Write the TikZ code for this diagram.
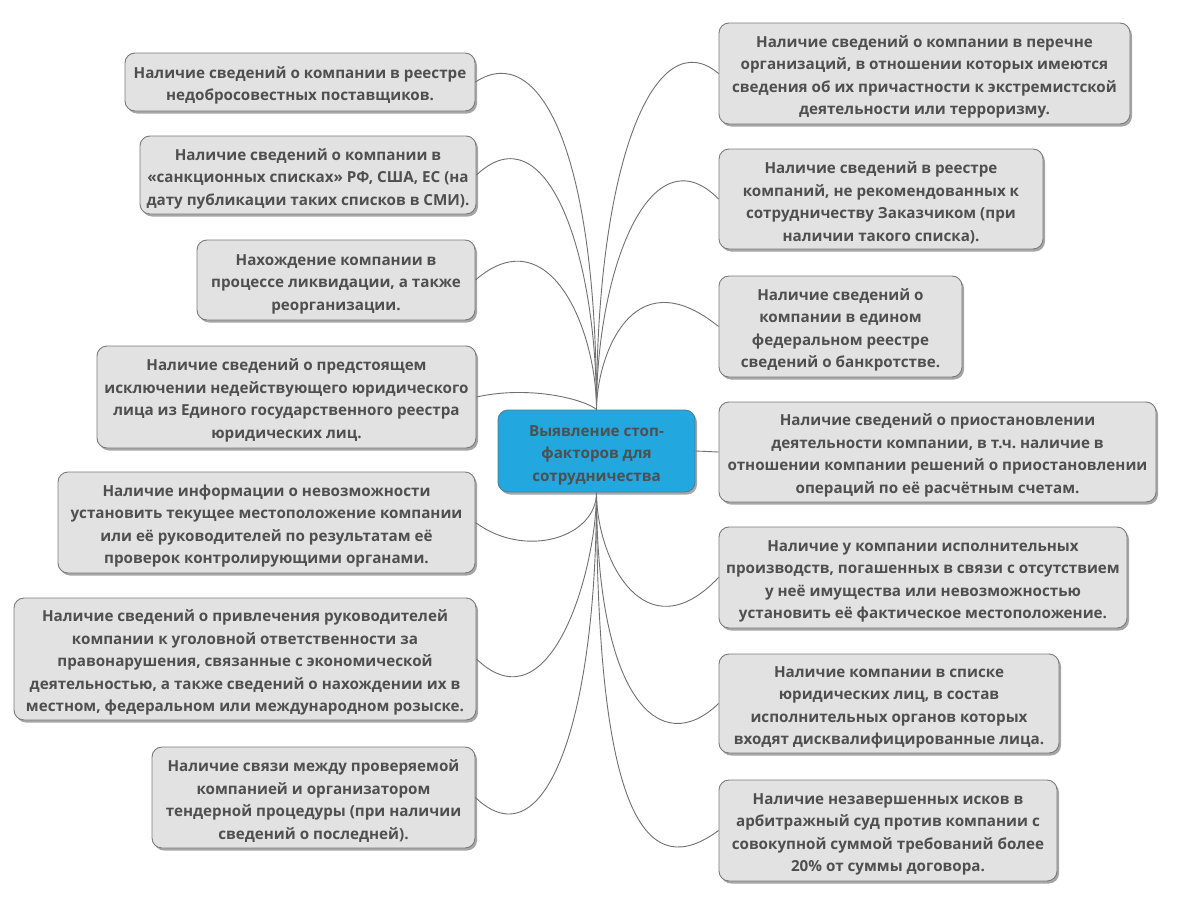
\documentclass[tikz,border=0pt]{standalone}
\usepackage{fontspec}
\setmainfont{Open Sans}
\usetikzlibrary{shadows}
\frenchspacing
\newcommand\tp{\rule{0pt}{19pt}}
\definecolor{boxfill}{HTML}{E2E2E2}
\definecolor{boxline}{HTML}{7A7A7A}
\definecolor{txt}{HTML}{4F4F4F}
\definecolor{mainfill}{HTML}{22A7DE}
\definecolor{mainline}{HTML}{4F7F95}
\definecolor{conn}{HTML}{707070}
\tikzset{
  leaf/.style={draw=boxline, fill=boxfill, rounded corners=10pt, line width=0.9pt,
    align=center, text=txt, font=\bfseries\fontsize{15.2}{22.5}\selectfont, inner sep=0pt,
    drop shadow={shadow xshift=2pt, shadow yshift=-2.5pt, fill=black, opacity=0.35}},
  root/.style={leaf, fill=mainfill, draw=mainline},
  link/.style={draw=conn, line width=0.9pt},
}
\begin{document}
\begin{tikzpicture}[x=1pt,y=-1pt]
\fill[white] (0,0) rectangle (1186,910);
\useasboundingbox (0,0) rectangle (1186,910);

\node[root, minimum width=197pt, minimum height=82pt] (c) at (596.5,451) {\tp Выявление стоп-\\факторов для\\сотрудничества};

\node[leaf, minimum width=350pt, minimum height=58pt] (l1) at (300,82) {\tp Наличие сведений о компании в реестре\\недобросовестных поставщиков.};
\node[leaf, minimum width=336pt, minimum height=78pt] (l2) at (308,175) {\tp Наличие сведений о компании в\\«санкционных списках» РФ, США, ЕС (на\\дату публикации таких списков в СМИ).};
\node[leaf, minimum width=278pt, minimum height=80pt] (l3) at (336,280) {\tp Нахождение компании в\\процессе ликвидации, а также\\реорганизации.};
\node[leaf, minimum width=379pt, minimum height=102pt] (l4) at (286.5,397) {\tp Наличие сведений о предстоящем\\исключении недействующего юридического\\лица из Единого государственного реестра\\юридических лиц.};
\node[leaf, minimum width=417pt, minimum height=101pt] (l5) at (266.5,522.5) {\tp Наличие информации о невозможности\\установить текущее местоположение компании\\или её руководителей по результатам её\\проверок контролирующими органами.};
\node[leaf, minimum width=462pt, minimum height=122pt] (l6) at (245,659) {\tp Наличие сведений о привлечения руководителей\\компании к уголовной ответственности за\\правонарушения, связанные с экономической\\деятельностью, а также сведений о нахождении их в\\местном, федеральном или международном розыске.};
\node[leaf, minimum width=323pt, minimum height=101pt] (l7) at (313.5,797.5) {\tp Наличие связи между проверяемой\\компанией и организатором\\тендерной процедуры (при наличии\\сведений о последней).};

\node[leaf, minimum width=411pt, minimum height=101pt] (r1) at (924.5,73.5) {\tp Наличие сведений о компании в перечне\\организаций, в отношении которых имеются\\сведения об их причастности к экстремистской\\деятельности или терроризму.};
\node[leaf, minimum width=324pt, minimum height=100pt] (r2) at (881,199) {\tp Наличие сведений в реестре\\компаний, не рекомендованных к\\сотрудничеству Заказчиком (при\\наличии такого списка).};
\node[leaf, minimum width=243pt, minimum height=101pt] (r3) at (840.5,326.5) {\tp Наличие сведений о\\компании в едином\\федеральном реестре\\сведений о банкротстве.};
\node[leaf, minimum width=437pt, minimum height=100pt] (r4) at (937.5,452) {\tp Наличие сведений о приостановлении\\деятельности компании, в т.ч. наличие в\\отношении компании решений о приостановлении\\операций по её расчётным счетам.};
\node[leaf, minimum width=408pt, minimum height=101pt] (r5) at (923,577.5) {\tp Наличие у компании исполнительных\\производств, погашенных в связи с отсутствием\\у неё имущества или невозможностью\\установить её фактическое местоположение.};
\node[leaf, minimum width=340pt, minimum height=99pt] (r6) at (889,703.5) {\tp Наличие компании в списке\\юридических лиц, в состав\\исполнительных органов которых\\входят дисквалифицированные лица.};
\node[leaf, minimum width=338pt, minimum height=101pt] (r7) at (888,830.5) {\tp Наличие незавершенных исков в\\арбитражный суд против компании с\\совокупной суммой требований более\\20\% от суммы договора.};

\draw[link] (c.north) .. controls +(0,-259) and +(64,-42) .. (l1.east);
\draw[link] (c.north) .. controls +(0,-160) and +(69,-65) .. (l2.east);
\draw[link] (c.north) .. controls +(0,-80) and +(74,-64) .. (l3.east);
\draw[link] (c.north) .. controls +(-11.5,-10) and +(54,-12) .. (l4.east);
\draw[link] (c.north) .. controls +(0,-250) and +(-63,-53) .. (r1.west);
\draw[link] (c.north) .. controls +(0,-140) and +(-68,-69) .. (r2.west);
\draw[link] (c.north) .. controls +(0,-50) and +(-88,-71) .. (r3.west);
\draw[link] (c.east) -- (r4.west);
\draw[link] (c.south) .. controls +(0,45) and +(50,37) .. (l5.east);
\draw[link] (c.south) .. controls +(0,78) and +(74,71) .. (l6.east);
\draw[link] (c.south) .. controls +(0,228) and +(70,67) .. (l7.east);
\draw[link] (c.south) .. controls +(0,68) and +(-73,77) .. (r5.west);
\draw[link] (c.south) .. controls +(0,208) and +(-58,56) .. (r6.west);
\draw[link] (c.south) .. controls +(0,338) and +(-68,50) .. (r7.west);
\end{tikzpicture}
\end{document}
